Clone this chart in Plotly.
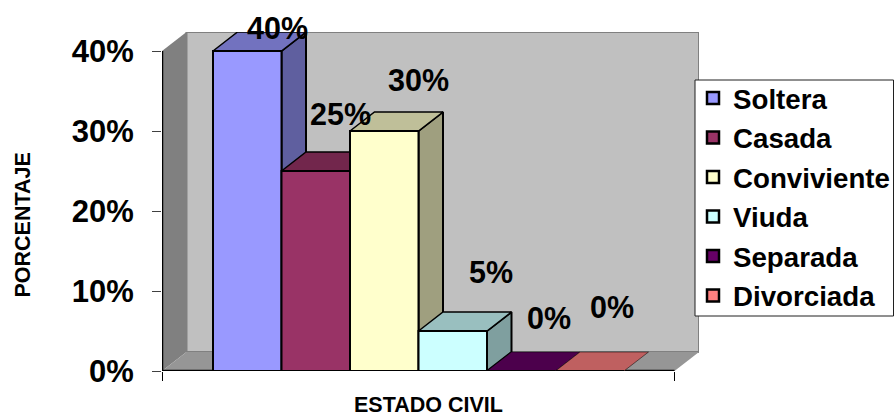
import plotly.graph_objects as go

categories = ["Soltera", "Casada", "Conviviente", "Viuda", "Separada", "Divorciada"]
values = [40, 25, 30, 5, 0, 0]
front_colors = ["#9999FF", "#993366", "#FFFFCC", "#CCFFFF", "#660066", "#FF8080"]
y_ticks = [0, 10, 20, 30, 40]
y_tick_labels = ["0%", "10%", "20%", "30%", "40%"]
label_dx = [30, 25, 34, 38, 28, 22]
label_dy = [23, 57, 51, 59, 53, 64]

FONT = "Liberation Sans, Arial, sans-serif"
PX_X = 68.5
PX_Y = 8.0
DX = 24.5 / PX_X
DY = 19 / PX_Y
X_LEFT = (162 - 213) / PX_X
X_RIGHT = (699 - 213) / PX_X
X_FRONT_RIGHT = X_RIGHT - DX
Y_TOP = 40


def shade(color, f):
    c = color.lstrip("#")
    return "#" + "".join(f"{int(int(c[i:i+2], 16) * f):02X}" for i in (0, 2, 4))


def poly(xs, ys, fill, line=None, width=0):
    return go.Scatter(
        x=xs, y=ys, mode="lines", fill="toself", fillcolor=fill,
        line=dict(color=line or fill, width=width if line else 0),
        showlegend=False, hoverinfo="skip",
    )


fig = go.Figure()

# Walls and floor
fig.add_trace(poly([X_LEFT + DX, X_RIGHT, X_RIGHT, X_LEFT + DX, X_LEFT + DX],
                   [DY, DY, Y_TOP + DY, Y_TOP + DY, DY], "#C0C0C0", "#808080", 2))
fig.add_trace(poly([X_LEFT, X_LEFT + DX, X_LEFT + DX, X_LEFT, X_LEFT],
                   [0, DY, Y_TOP + DY, Y_TOP, 0], "#808080"))
fig.add_trace(poly([X_LEFT, X_LEFT + DX, X_RIGHT, X_FRONT_RIGHT, X_LEFT],
                   [0, DY, DY, 0, 0], "#969696"))

# Axis lines
fig.add_trace(go.Scatter(x=[X_LEFT, X_LEFT, X_FRONT_RIGHT], y=[Y_TOP, 0, 0], mode="lines",
                         line=dict(color="#000000", width=2.5), showlegend=False, hoverinfo="skip"))

# 3D bars
for i, (name, v, col) in enumerate(zip(categories, values, front_colors)):
    x0, x1 = i, i + 1
    if v > 0:
        fig.add_trace(poly([x1, x1 + DX, x1 + DX, x1, x1],
                           [0, DY, v + DY, v, 0], shade(col, 0.625), "#000000", 2))
    fig.add_trace(poly([x0, x0 + DX, x1 + DX, x1, x0],
                       [v, v + DY, v + DY, v, v], shade(col, 0.75), "#000000", 1.5 if v > 0 else 0.5))
    fig.add_trace(poly([x0, x1, x1, x0, x0], [0, 0, v, v, 0], col, "#000000", 2))

# Legend entries
for name, col in zip(categories, front_colors):
    fig.add_trace(go.Bar(x=[None], y=[None], name=name, legendgroup=name,
                         marker=dict(color=col, line=dict(color="#000000", width=2.5))))

# Data labels
for i, v in enumerate(values):
    fig.add_annotation(x=i + 0.5, y=v, text=f"<b>{v}%</b>", showarrow=False, xshift=label_dx[i],
                       yshift=label_dy[i], xanchor="center", yanchor="middle",
                       font=dict(family=FONT, size=30.5, color="#000000"))

# Axis titles
fig.add_annotation(x=(428 - 162) / 537, y=(371 - 405) / 339, xref="x domain", yref="y domain",
                   text="<b>ESTADO CIVIL</b>", showarrow=False, xanchor="center", yanchor="middle",
                   font=dict(family=FONT, size=21.5, color="#000000"))
fig.add_annotation(x=(22 - 162) / 537, y=(371 - 225.5) / 339, xref="x domain", yref="y domain",
                   text="<b>PORCENTAJE</b>", textangle=-90, showarrow=False, xanchor="center", yanchor="middle",
                   font=dict(family=FONT, size=21.5, color="#000000"))

# Legend box
fig.add_shape(type="rect", xref="paper", yref="paper", x0=(695 - 162) / 537, x1=(893.5 - 162) / 537,
              y0=(371 - 316) / 339, y1=(371 - 80) / 339, fillcolor="#FFFFFF",
              line=dict(color="#202020", width=1), layer="above")

fig.update_layout(
    width=894, height=417, margin=dict(l=162, r=195, t=32, b=46, autoexpand=False),
    paper_bgcolor="#FFFFFF", plot_bgcolor="#FFFFFF",
    font=dict(family=FONT, color="#000000"),
    xaxis=dict(range=[X_LEFT, X_RIGHT], showgrid=False, zeroline=False, showticklabels=False,
               tickmode="array", tickvals=[X_LEFT, X_FRONT_RIGHT], ticks="outside", ticklen=9,
               tickcolor="#000000", tickwidth=1),
    yaxis=dict(range=[0, Y_TOP + DY], showgrid=False, zeroline=False, tickmode="array",
               tickvals=y_ticks, ticktext=[f"<b>{t}</b>" for t in y_tick_labels], ticks="outside",
               ticklen=9, tickcolor="#404040", tickwidth=1, ticklabelstandoff=12,
               tickfont=dict(family=FONT, size=31)),
    showlegend=True,
    legend=dict(x=693 / 894, y=1 - 73.5 / 417, xref="container", yref="container", xanchor="left", yanchor="top",
                bgcolor="rgba(0,0,0,0)", borderwidth=0, tracegroupgap=0.5, maxheight=340,
                font=dict(family=FONT, size=27.7, weight="bold", color="#000000"),
                itemclick=False, itemdoubleclick=False),
)

fig.write_html("out.html", post_script="document.body.style.margin='0';", config={"displayModeBar": False})
